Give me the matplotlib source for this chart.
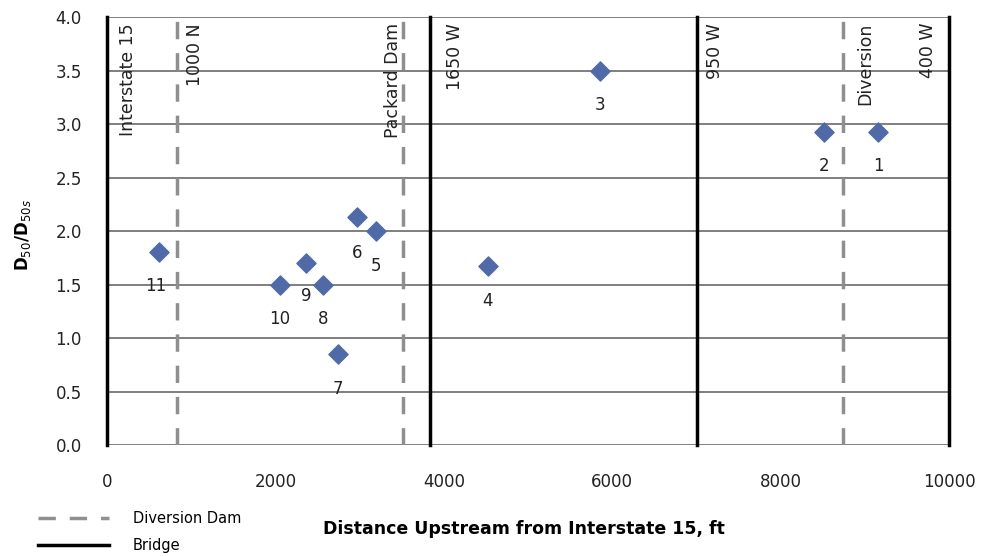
import matplotlib.pyplot as plt
from matplotlib.lines import Line2D

# Sample points (distance upstream, ft; D50/D50s)
site_labels = ["1", "2", "3", "4", "5", "6", "7", "8", "9", "10", "11"]
distance = [9157, 8515, 5855, 4525, 3195, 2969, 2743, 2565, 2363, 2055, 618]
ratio = [2.93, 2.93, 3.50, 1.67, 2.00, 2.13, 0.85, 1.50, 1.70, 1.50, 1.80]

# label offsets (points) under each marker
label_dx = [0, 0, 0, 0, 0, 0, 0, 0, 0, 0, -2]
label_dy = [-25, -25, -25, -25, -25, -26, -25, -25, -24, -25, -24]

# Structures along the channel
dam_x = [831, 3515, 8741]
bridge_x = [0, 3836, 7007, 10000]
struct_names = ["Interstate 15", "1000 N", "Packard Dam", "1650 W", "950 W", "Diversion", "400 W"]
struct_text_x = [250, 1045, 3397, 4133, 7221, 9002, 9750]

fig = plt.figure(figsize=(9.84, 5.56), dpi=100)
ax = fig.add_axes([0.1087, 0.1996, 0.8557, 0.7698])

ax.set_xlim(0, 10000)
ax.set_ylim(0, 4.0)
ax.set_yticks([0, 0.5, 1.0, 1.5, 2.0, 2.5, 3.0, 3.5, 4.0])
ax.set_xticks([0, 2000, 4000, 6000, 8000, 10000])
ax.set_yticklabels([f"{v:.1f}" for v in ax.get_yticks()])
ax.tick_params(length=0, labelsize=12, colors="#222222")
ax.tick_params(axis="y", pad=18)
ax.tick_params(axis="x", pad=20)
for s in ax.spines.values():
    s.set_visible(False)
ax.grid(axis="y", color="#7f7f7f", linewidth=1.4)
ax.set_axisbelow(True)

for x in dam_x:
    ax.axvline(x, color="#8f8f8f", linestyle=(0, (5, 4)), linewidth=2.5, zorder=2)
for x in bridge_x:
    ax.axvline(x, color="black", linewidth=2.5, zorder=2, clip_on=False)

for name, x in zip(struct_names, struct_text_x):
    ax.text(x, 3.945, name, rotation=90, ha="center", va="top", fontsize=12.5, color="#222222")

ax.scatter(distance, ratio, marker="D", s=95, color="#4f6aa6", zorder=4)
for lab, x, y, dx, dy in zip(site_labels, distance, ratio, label_dx, label_dy):
    ax.annotate(lab, (x, y), xytext=(dx, dy), textcoords="offset points",
                ha="center", va="center", fontsize=12, color="#222222")

ax.set_ylabel("D$_{50}$/D$_{50s}$", fontsize=12, fontweight="bold")
ax.yaxis.set_label_coords(-0.088, 0.49)
ax.set_xlabel("Distance Upstream from Interstate 15, ft", fontsize=12.5, fontweight="bold")
ax.xaxis.set_label_coords(0.495, -0.175)

handles = [Line2D([], [], color="#8f8f8f", linestyle=(0, (5, 4)), linewidth=2.5),
           Line2D([], [], color="black", linewidth=2.5)]
fig.legend(handles, ["Diversion Dam", "Bridge"], loc="center left",
           bbox_to_anchor=(38 / 984, 24 / 556), frameon=False, fontsize=10.5,
           handlelength=4.9, handletextpad=1.6, labelspacing=0.85, borderpad=0,
           borderaxespad=0)

fig.savefig("out.png", dpi=100)
